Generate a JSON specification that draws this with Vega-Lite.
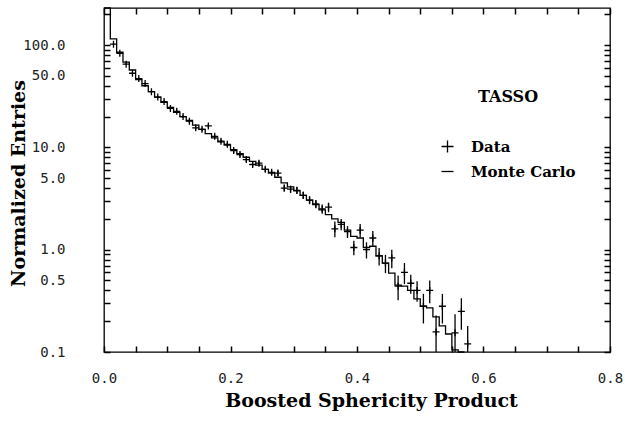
{
  "$schema": "https://vega.github.io/schema/vega-lite/v6.json",
  "width": 506,
  "height": 344,
  "autosize": {"type": "none"},
  "padding": {"left": 104, "top": 8, "right": 15, "bottom": 81},
  "background": "white",
  "config": {"view": {"stroke": "black", "strokeWidth": 1.3}},
  "datasets": {
    "mc": [
      {"x": 0, "v": 500}, {"x": 0.01, "v": 115}, {"x": 0.02, "v": 85}, {"x": 0.03, "v": 68},
      {"x": 0.04, "v": 57}, {"x": 0.05, "v": 46}, {"x": 0.06, "v": 40}, {"x": 0.07, "v": 35},
      {"x": 0.08, "v": 31}, {"x": 0.09, "v": 27.5}, {"x": 0.1, "v": 24.5}, {"x": 0.11, "v": 22},
      {"x": 0.12, "v": 20}, {"x": 0.13, "v": 18.3}, {"x": 0.14, "v": 16.5}, {"x": 0.15, "v": 15},
      {"x": 0.16, "v": 13.6}, {"x": 0.17, "v": 12.4}, {"x": 0.18, "v": 11.3}, {"x": 0.19, "v": 10.5},
      {"x": 0.2, "v": 9.5}, {"x": 0.21, "v": 8.7}, {"x": 0.22, "v": 8.0}, {"x": 0.23, "v": 7.3},
      {"x": 0.24, "v": 6.7}, {"x": 0.25, "v": 6.1}, {"x": 0.26, "v": 5.6}, {"x": 0.27, "v": 5.1},
      {"x": 0.28, "v": 4.5}, {"x": 0.29, "v": 4.1}, {"x": 0.3, "v": 3.75}, {"x": 0.31, "v": 3.4},
      {"x": 0.32, "v": 3.05}, {"x": 0.33, "v": 2.75}, {"x": 0.34, "v": 2.45}, {"x": 0.35, "v": 2.2},
      {"x": 0.36, "v": 2.0}, {"x": 0.37, "v": 1.85}, {"x": 0.38, "v": 1.55}, {"x": 0.39, "v": 1.35},
      {"x": 0.4, "v": 1.3}, {"x": 0.41, "v": 1.05}, {"x": 0.42, "v": 1.08}, {"x": 0.43, "v": 0.87},
      {"x": 0.44, "v": 0.74}, {"x": 0.45, "v": 0.59}, {"x": 0.46, "v": 0.45}, {"x": 0.47, "v": 0.44},
      {"x": 0.48, "v": 0.4}, {"x": 0.49, "v": 0.33}, {"x": 0.5, "v": 0.28}, {"x": 0.51, "v": 0.27},
      {"x": 0.52, "v": 0.22}, {"x": 0.53, "v": 0.18}, {"x": 0.54, "v": 0.15}, {"x": 0.55, "v": 0.105},
      {"x": 0.56, "v": 0.1}, {"x": 0.57, "v": 0.05}
    ],
    "data": [
      {"x": 0.015, "v": 102, "lo": 100, "hi": 104, "series": "Data"},
      {"x": 0.025, "v": 83, "lo": 81.2, "hi": 84.8, "series": "Data"},
      {"x": 0.035, "v": 65, "lo": 63.5, "hi": 66.5, "series": "Data"},
      {"x": 0.045, "v": 53, "lo": 51.7, "hi": 54.3, "series": "Data"},
      {"x": 0.055, "v": 47, "lo": 45.8, "hi": 48.2, "series": "Data"},
      {"x": 0.065, "v": 42, "lo": 40.9, "hi": 43.1, "series": "Data"},
      {"x": 0.075, "v": 35, "lo": 34, "hi": 36, "series": "Data"},
      {"x": 0.085, "v": 31, "lo": 30.1, "hi": 31.9, "series": "Data"},
      {"x": 0.095, "v": 28, "lo": 27.15, "hi": 28.85, "series": "Data"},
      {"x": 0.105, "v": 24, "lo": 23.2, "hi": 24.8, "series": "Data"},
      {"x": 0.115, "v": 22.5, "lo": 21.75, "hi": 23.25, "series": "Data"},
      {"x": 0.125, "v": 20, "lo": 19.3, "hi": 20.7, "series": "Data"},
      {"x": 0.135, "v": 18, "lo": 17.35, "hi": 18.65, "series": "Data"},
      {"x": 0.145, "v": 15.5, "lo": 14.9, "hi": 16.1, "series": "Data"},
      {"x": 0.155, "v": 15.0, "lo": 14.4, "hi": 15.6, "series": "Data"},
      {"x": 0.165, "v": 16.2, "lo": 15.6, "hi": 16.8, "series": "Data"},
      {"x": 0.175, "v": 12.8, "lo": 12.25, "hi": 13.35, "series": "Data"},
      {"x": 0.185, "v": 11.5, "lo": 11.0, "hi": 12.0, "series": "Data"},
      {"x": 0.195, "v": 10.7, "lo": 10.22, "hi": 11.18, "series": "Data"},
      {"x": 0.205, "v": 9.3, "lo": 8.85, "hi": 9.75, "series": "Data"},
      {"x": 0.215, "v": 8.5, "lo": 8.08, "hi": 8.92, "series": "Data"},
      {"x": 0.225, "v": 7.6, "lo": 7.2, "hi": 8.0, "series": "Data"},
      {"x": 0.235, "v": 6.8, "lo": 6.43, "hi": 7.17, "series": "Data"},
      {"x": 0.245, "v": 7.0, "lo": 6.62, "hi": 7.38, "series": "Data"},
      {"x": 0.255, "v": 6.1, "lo": 5.75, "hi": 6.45, "series": "Data"},
      {"x": 0.265, "v": 5.7, "lo": 5.35, "hi": 6.05, "series": "Data"},
      {"x": 0.275, "v": 5.6, "lo": 5.25, "hi": 5.95, "series": "Data"},
      {"x": 0.285, "v": 4.0, "lo": 3.7, "hi": 4.3, "series": "Data"},
      {"x": 0.295, "v": 3.9, "lo": 3.6, "hi": 4.2, "series": "Data"},
      {"x": 0.305, "v": 3.8, "lo": 3.5, "hi": 4.1, "series": "Data"},
      {"x": 0.315, "v": 3.4, "lo": 3.12, "hi": 3.68, "series": "Data"},
      {"x": 0.325, "v": 3.05, "lo": 2.78, "hi": 3.32, "series": "Data"},
      {"x": 0.335, "v": 2.8, "lo": 2.54, "hi": 3.06, "series": "Data"},
      {"x": 0.345, "v": 2.5, "lo": 2.24, "hi": 2.76, "series": "Data"},
      {"x": 0.355, "v": 2.6, "lo": 2.32, "hi": 2.88, "series": "Data"},
      {"x": 0.365, "v": 1.6, "lo": 1.32, "hi": 1.88, "series": "Data"},
      {"x": 0.375, "v": 1.77, "lo": 1.55, "hi": 1.99, "series": "Data"},
      {"x": 0.385, "v": 1.5, "lo": 1.3, "hi": 1.7, "series": "Data"},
      {"x": 0.395, "v": 1.05, "lo": 0.88, "hi": 1.22, "series": "Data"},
      {"x": 0.405, "v": 1.55, "lo": 1.32, "hi": 1.78, "series": "Data"},
      {"x": 0.415, "v": 1.0, "lo": 0.82, "hi": 1.18, "series": "Data"},
      {"x": 0.425, "v": 1.3, "lo": 1.08, "hi": 1.52, "series": "Data"},
      {"x": 0.435, "v": 0.87, "lo": 0.7, "hi": 1.04, "series": "Data"},
      {"x": 0.445, "v": 0.74, "lo": 0.59, "hi": 0.89, "series": "Data"},
      {"x": 0.455, "v": 0.83, "lo": 0.66, "hi": 1.0, "series": "Data"},
      {"x": 0.465, "v": 0.44, "lo": 0.32, "hi": 0.56, "series": "Data"},
      {"x": 0.475, "v": 0.6, "lo": 0.46, "hi": 0.74, "series": "Data"},
      {"x": 0.485, "v": 0.47, "lo": 0.37, "hi": 0.57, "series": "Data"},
      {"x": 0.495, "v": 0.4, "lo": 0.31, "hi": 0.49, "series": "Data"},
      {"x": 0.505, "v": 0.28, "lo": 0.19, "hi": 0.37, "series": "Data"},
      {"x": 0.515, "v": 0.4, "lo": 0.3, "hi": 0.5, "series": "Data"},
      {"x": 0.525, "v": 0.157, "lo": 0.087, "hi": 0.227, "series": "Data"},
      {"x": 0.535, "v": 0.28, "lo": 0.19, "hi": 0.37, "series": "Data"},
      {"x": 0.555, "v": 0.154, "lo": 0.074, "hi": 0.234, "series": "Data"},
      {"x": 0.565, "v": 0.25, "lo": 0.165, "hi": 0.335, "series": "Data"},
      {"x": 0.575, "v": 0.12, "lo": 0.06, "hi": 0.18, "series": "Data"}
    ]
  },
  "resolve": {"axis": {"x": "independent", "y": "independent"}},
  "layer": [
    {
      "data": {"name": "mc"},
      "mark": {"type": "line", "interpolate": "step-after", "color": "black", "strokeWidth": 1.3},
      "encoding": {
        "x": {
          "field": "x", "type": "quantitative",
          "scale": {"domain": [0, 0.8], "nice": false, "zero": false},
          "axis": {
            "orient": "bottom",
            "title": "Boosted Sphericity Product",
            "values": [0, 0.05, 0.1, 0.15, 0.2, 0.25, 0.3, 0.35, 0.4, 0.45, 0.5, 0.55, 0.6, 0.65, 0.7, 0.75, 0.8],
            "labelExpr": "round(datum.value*20) % 4 == 0 ? format(datum.value, '.1f') : ''",
            "domain": false, "grid": false,
            "tickSize": -6, "tickColor": "black", "tickWidth": 1.5,
            "labelPadding": 25,
            "labelFont": "DejaVu Sans Mono", "labelFontSize": 14, "labelColor": "#222",
            "labelOverlap": false, "labelFlush": false,
            "titleFont": "DejaVu Serif", "titleFontSize": 19, "titleFontWeight": "bold", "titleColor": "black",
            "titleX": 267, "titleY": 48, "titleBaseline": "middle", "titleAlign": "center"
          }
        },
        "y": {
          "field": "v", "type": "quantitative",
          "scale": {"type": "log", "domain": [0.1, 230], "nice": false, "clamp": true},
          "axis": {
            "orient": "left",
            "title": "Normalized Entries",
            "values": [0.1, 0.2, 0.3, 0.4, 0.5, 0.6, 0.7, 0.8, 0.9, 1, 2, 3, 4, 5, 6, 7, 8, 9, 10, 20, 30, 40, 50, 60, 70, 80, 90, 100, 200],
            "labelExpr": "indexof([0.1, 0.5, 1, 5, 10, 50, 100], datum.value) >= 0 ? format(datum.value, '.1f') : ''",
            "domain": false, "grid": false,
            "tickSize": -6, "tickColor": "black", "tickWidth": 1.5,
            "labelPadding": 45,
            "labelFont": "DejaVu Sans Mono", "labelFontSize": 14, "labelColor": "#222",
            "labelOverlap": false, "labelFlush": false,
            "titleFont": "DejaVu Serif", "titleFontSize": 19, "titleFontWeight": "bold", "titleColor": "black",
            "titleX": -86, "titleY": 175, "titleBaseline": "middle", "titleAlign": "center"
          }
        }
      }
    },
    {
      "data": {"name": "data"},
      "mark": {"type": "rule", "color": "black", "strokeWidth": 1.3},
      "encoding": {
        "x": {
          "field": "x", "type": "quantitative",
          "scale": {"domain": [0, 0.8], "nice": false, "zero": false},
          "axis": {
            "orient": "top", "title": null, "labels": false,
            "values": [0, 0.05, 0.1, 0.15, 0.2, 0.25, 0.3, 0.35, 0.4, 0.45, 0.5, 0.55, 0.6, 0.65, 0.7, 0.75, 0.8],
            "domain": false, "grid": false,
            "tickSize": -6, "tickColor": "black", "tickWidth": 1.5
          }
        },
        "y": {
          "field": "lo", "type": "quantitative",
          "scale": {"type": "log", "domain": [0.1, 230], "nice": false, "clamp": true},
          "axis": {
            "orient": "right", "title": null, "labels": false,
            "values": [0.1, 0.2, 0.3, 0.4, 0.5, 0.6, 0.7, 0.8, 0.9, 1, 2, 3, 4, 5, 6, 7, 8, 9, 10, 20, 30, 40, 50, 60, 70, 80, 90, 100, 200],
            "domain": false, "grid": false,
            "tickSize": -6, "tickColor": "black", "tickWidth": 1.5
          }
        },
        "y2": {"field": "hi"}
      }
    },
    {
      "data": {"name": "data"},
      "mark": {"type": "point", "filled": false, "color": "black", "strokeWidth": 1.3, "size": 49, "opacity": 1},
      "encoding": {
        "x": {"field": "x", "type": "quantitative", "scale": {"domain": [0, 0.8], "nice": false, "zero": false}, "axis": null},
        "y": {"field": "v", "type": "quantitative", "scale": {"type": "log", "domain": [0.1, 230], "nice": false, "clamp": true}, "axis": null},
        "shape": {
          "field": "series", "type": "nominal",
          "scale": {"domain": ["Data", "Monte Carlo"], "range": ["M0,-1V1M-1,0H1", "M-1,0H1"]},
          "legend": {
            "title": "TASSO",
            "orient": "none", "legendX": 336, "legendY": 81,
            "titleFont": "DejaVu Serif", "titleFontSize": 16, "titleFontWeight": "bold", "titleColor": "black",
            "titleAnchor": "middle", "titlePadding": 34,
            "labelFont": "DejaVu Serif", "labelFontSize": 15, "labelFontWeight": "bold", "labelColor": "black",
            "labelOffset": 16, "rowPadding": 8,
            "symbolSize": 144, "symbolStrokeWidth": 1.3, "symbolStrokeColor": "black", "symbolFillColor": "transparent"
          }
        }
      }
    }
  ]
}
